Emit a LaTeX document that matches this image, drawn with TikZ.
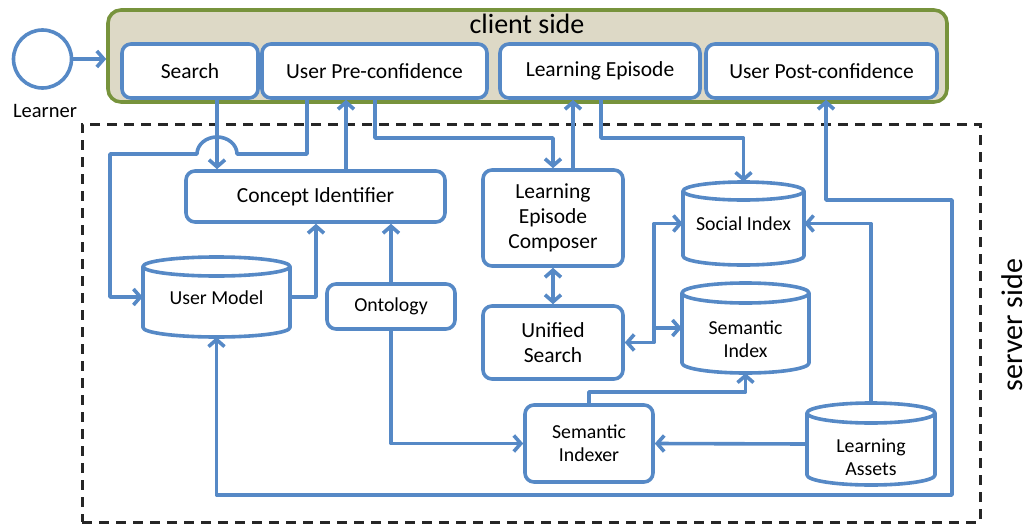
\documentclass[tikz,border=0pt]{standalone}
\usepackage{fontspec}
\setmainfont{Carlito}
\usetikzlibrary{arrows.meta}
\definecolor{lineblue}{RGB}{86,137,198}
\definecolor{clientfill}{RGB}{221,217,198}
\definecolor{clientedge}{RGB}{119,147,60}
\tikzset{
  ln/.style={draw=lineblue, line width=3.6pt, line join=round},
  arr/.style={ln, -{Straight Barb[length=7pt,width=16pt,line width=3.6pt]}},
  arr2/.style={ln, {Straight Barb[length=7pt,width=16pt,line width=3.6pt]}-{Straight Barb[length=7pt,width=16pt,line width=3.6pt]}},
  box/.style={ln, fill=white, rounded corners=9pt, align=center, inner sep=0pt, font=\fontsize{21.5}{25}\selectfont},
  sbox/.style={box, font=\fontsize{19.8}{23}\selectfont},
  txt/.style={align=center, inner sep=0pt, font=\fontsize{19.8}{23}\selectfont},
}
\newcommand\dbcyl[6]{% name cx cy rx hh ry
  \draw[ln, fill=white] ({#2-#4},{#3-#5+#6}) -- ({#2-#4},{#3+#5-#6})
    arc[start angle=180,end angle=360,x radius=#4pt,y radius=#6pt]
    -- ({#2+#4},{#3-#5+#6})
    arc[start angle=0,end angle=180,x radius=#4pt,y radius=#6pt] -- cycle;
  \draw[ln] ({#2-#4},{#3-#5+#6}) arc[start angle=180,end angle=360,x radius=#4pt,y radius=#6pt];
  \node[inner sep=0pt, minimum width={2*#4}, minimum height={2*#5}] (#1) at (#2,#3) {};
}
\begin{document}
\begin{tikzpicture}[x=1pt,y=-1pt]
\useasboundingbox (0,0) rectangle (1029,525);
% server side
\node[draw=black!85, line width=3pt, dash pattern=on 10pt off 7pt, minimum width=898, minimum height=398, inner sep=0pt] (server) at (531,323) {};
\node[rotate=90, inner sep=0pt, font=\fontsize{30}{34}\selectfont] (servertxt) at (1012,325) {server side};
% client side
\node[draw=clientedge, fill=clientfill, line width=3.6pt, rounded corners=13pt, minimum width=839, minimum height=92, inner sep=0pt] (client) at (527.5,56) {};
\node[inner sep=0pt, font=\fontsize{28}{32}\selectfont] (clienttxt) at (527,24) {client side};
% learner
\node[ln, circle, minimum size=58, inner sep=0pt] (learner) at (42.5,59) {};
\node[inner sep=0pt, font=\fontsize{20.5}{24}\selectfont] (learnertxt) at (45,111) {Learner};
\draw[arr] (learner.east) -- (client.west |- learner.east);
% client boxes
\node[box, minimum width=136, minimum height=54] (search) at (190,71) {Search};
\node[box, minimum width=225, minimum height=54] (pre) at (374.5,71) {User Pre-confidence};
\node[box, minimum width=200, minimum height=54] (le) at (600,71) {Learning Episode};
\node[box, minimum width=231, minimum height=54] (post) at (821.5,71) {User Post-confidence};
% server boxes
\node[box, minimum width=259, minimum height=51] (ci) at (315.5,196.5) {Concept Identifier};
\node[box, minimum width=140, minimum height=96] (lec) at (553,218) {Learning\\Episode\\Composer};
\node[box, minimum width=140, minimum height=73] (us) at (553,342.5) {Unified\\Search};
\node[sbox, minimum width=128, minimum height=77] (sidx) at (589,443.5) {Semantic\\Indexer};
\node[sbox, minimum width=128, minimum height=45] (onto) at (391,306.5) {Ontology};
% cylinders
\dbcyl{um}{216.5}{297}{73.5}{40}{9.5}
\node[txt] (umtxt) at (216.5,298) {User Model};
\dbcyl{soc}{743.5}{223.5}{60.5}{41.5}{9}
\node[txt] (soctxt) at (743.5,224) {Social Index};
\dbcyl{semi}{745.5}{328}{63.5}{45}{10}
\node[txt] (semitxt) at (745.5,339) {Semantic\\Index};
\dbcyl{la}{871}{444}{64}{41}{10}
\node[txt] (latxt) at (871,457) {Learning\\Assets};
% connectors
\draw[arr] (217,0 |- search.south) -- (217,0 |- ci.north);
\draw[arr] (307,0 |- pre.south) -- (307,154) -- (237,154)
  arc[start angle=0,end angle=180,x radius=20pt,y radius=17pt] -- (110,154) |- (um.west);
\draw[arr] (346,0 |- ci.north) -- (346,0 |- pre.south);
\draw[arr] (375,0 |- pre.south) -- (375,138) -| (lec.north);
\draw[arr] (573,0 |- lec.north) -- (573,0 |- le.south);
\draw[arr] (601,0 |- le.south) -- (601,138) -| (soc.north);
\draw[arr] (um.east) -| (316,0 |- ci.south);
\draw[arr] (onto.north) -- (onto.north |- ci.south);
\draw[arr] (onto.south) |- (sidx.west);
\draw[arr2] (lec.south) -- (us.north);
\draw[arr2] (us.east) -| (654,0 |- soc.west) -- (soc.west);
\draw[arr] (654,0 |- semi.west) -- (semi.west);
\draw[arr] (sidx.north) -- (589,392) -| (semi.south);
\draw[arr] (la.west) -- (sidx.east);
\draw[arr] (la.north) |- (soc.east);
\draw[arr2] (um.south) |- (952,495) |- (826,200) -- (826,0 |- post.south);
\end{tikzpicture}
\end{document}
